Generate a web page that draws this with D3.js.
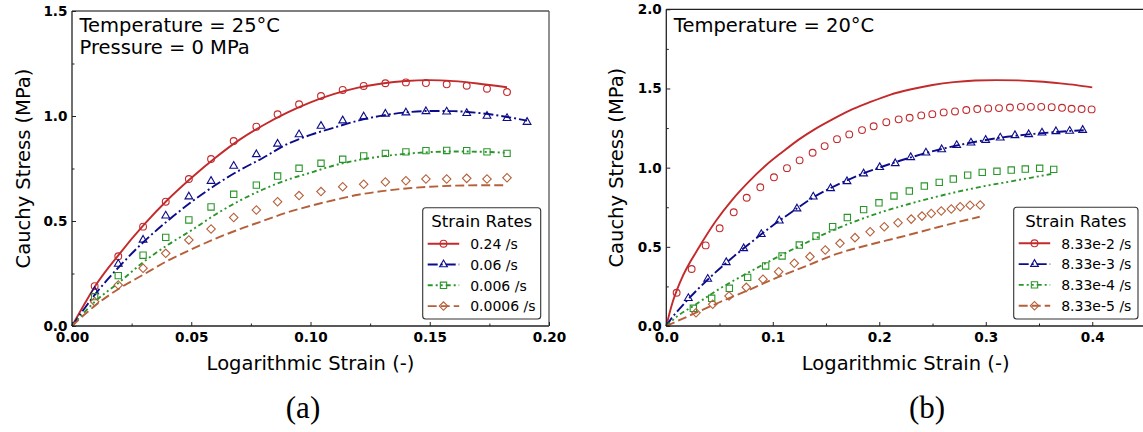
<!DOCTYPE html>
<html><head><meta charset="utf-8">
<script src="https://cdn.jsdelivr.net/npm/d3@7"></script>
<style>body{margin:0;background:#fff;overflow:hidden}</style>
</head><body>
<svg id="c" width="1143" height="432"></svg>
<script>
// ===== Panel (a): Temperature = 25°C, Pressure = 0 MPa =====
const aRateLabels = ["0.24 /s", "0.06 /s", "0.006 /s", "0.0006 /s"];
const aXTicks = [0, 0.05, 0.10, 0.15, 0.20];
const aXMinor = [0.025, 0.075, 0.125, 0.175];
const aYTicks = [0, 0.5, 1.0, 1.5];
const aYMinor = [0.25, 0.75, 1.25];
// experimental points
const aExpStrain = [0.0095,0.0194,0.0298,0.0393,0.049,0.0583,0.0678,0.0773,0.0862,0.0952,0.1044,0.1135,0.1223,0.1314,0.14,0.1484,0.1571,0.1655,0.174,0.1824];
const aExpStrainLong = [0.0095,0.0194,0.0298,0.0393,0.049,0.0583,0.0678,0.0773,0.0862,0.0952,0.1044,0.1135,0.1223,0.1314,0.14,0.1484,0.1571,0.1655,0.174,0.1824,0.1908];
const aExp024 = [0.19,0.332,0.473,0.592,0.70,0.795,0.881,0.949,1.008,1.056,1.095,1.124,1.143,1.156,1.160,1.157,1.151,1.144,1.130,1.114];
const aExp006 = [0.165,0.295,0.41,0.525,0.616,0.69,0.762,0.817,0.867,0.912,0.952,0.978,0.997,1.01,1.016,1.022,1.02,1.013,1.0,0.989,0.971];
const aExp0006a = [0.14,0.24,0.337,0.422,0.505,0.567,0.627,0.671,0.714,0.751,0.775,0.794,0.81,0.822,0.829,0.835,0.836,0.835,0.829,0.822];
const aExp00006 = [0.116,0.195,0.275,0.346,0.41,0.462,0.517,0.552,0.592,0.621,0.64,0.663,0.675,0.686,0.692,0.70,0.70,0.703,0.70,0.706];
// model curves
const aFitStrain = [0,0.005,0.01,0.02,0.03,0.04,0.05,0.06,0.07,0.08,0.09,0.10,0.11,0.12,0.13,0.14,0.15,0.16,0.17,0.1824];
const aFitStrainLong = [0,0.005,0.01,0.02,0.03,0.04,0.05,0.06,0.07,0.08,0.09,0.10,0.11,0.12,0.13,0.14,0.15,0.16,0.17,0.18,0.1908];
const aFit024 = [0,0.10,0.195,0.345,0.48,0.60,0.705,0.80,0.885,0.955,1.015,1.065,1.105,1.135,1.155,1.167,1.171,1.166,1.155,1.137];
const aFit006 = [0,0.08,0.155,0.285,0.40,0.50,0.59,0.67,0.74,0.80,0.865,0.91,0.945,0.978,1.002,1.017,1.024,1.023,1.015,1.0,0.978];
const aFit0006 = [0,0.063,0.12,0.21,0.305,0.385,0.455,0.53,0.595,0.65,0.695,0.73,0.765,0.79,0.808,0.82,0.828,0.831,0.83,0.825];
const aFit00006 = [0,0.052,0.1,0.18,0.245,0.31,0.365,0.415,0.46,0.50,0.54,0.572,0.60,0.625,0.642,0.655,0.663,0.668,0.67,0.67];

// ===== Panel (b): Temperature = 20°C =====
const bRateLabels = ["8.33e-2 /s", "8.33e-3 /s", "8.33e-4 /s", "8.33e-5 /s"];
const bXTicks = [0, 0.1, 0.2, 0.3, 0.4];
const bXMinor = [0.05, 0.15, 0.25, 0.35];
const bYTicks = [0, 0.5, 1.0, 1.5, 2.0];
const bYMinor = [0.25, 0.75, 1.25, 1.75];
const bExpStrain1 = [0.0097,0.0238,0.037,0.0501,0.0633,0.0755,0.0883,0.1011,0.1133,0.1252,0.1374,0.1487,0.1603,0.1718,0.1838,0.1947,0.2066,0.2182,0.2285,0.2394,0.2498,0.2605,0.2711,0.2817,0.292,0.3023,0.3124,0.3227,0.333,0.3424,0.3521,0.3619,0.3716,0.3806,0.39,0.3994];
const bExp1 = [0.21,0.36,0.509,0.617,0.718,0.81,0.876,0.939,0.997,1.046,1.094,1.136,1.18,1.21,1.237,1.261,1.287,1.305,1.315,1.33,1.338,1.349,1.355,1.364,1.37,1.374,1.376,1.38,1.384,1.384,1.384,1.382,1.378,1.372,1.37,1.368];
const bExpStrain2 = [0.0207,0.0389,0.0563,0.0727,0.0892,0.1061,0.1227,0.138,0.1543,0.1697,0.1853,0.2004,0.215,0.2295,0.2438,0.2586,0.2727,0.2861,0.2999,0.3136,0.3274,0.3403,0.3528,0.3659,0.3788,0.391];
const bExp2 = [0.175,0.297,0.402,0.49,0.579,0.665,0.741,0.816,0.869,0.913,0.962,1.002,1.027,1.065,1.094,1.115,1.141,1.157,1.174,1.189,1.204,1.21,1.22,1.229,1.231,1.237];
const bExpStrain3 = [0.0254,0.0426,0.0592,0.0764,0.0933,0.1087,0.1249,0.1406,0.1562,0.17,0.1853,0.1997,0.2138,0.2282,0.2423,0.2563,0.2695,0.283,0.2967,0.3105,0.3239,0.3371,0.3506,0.3638];
const bExp3 = [0.112,0.175,0.238,0.307,0.379,0.442,0.511,0.568,0.627,0.685,0.735,0.778,0.821,0.852,0.884,0.907,0.928,0.953,0.970,0.977,0.985,0.991,0.996,0.989];
const bExpStrain4 = [0.0279,0.0436,0.0589,0.0751,0.0908,0.1055,0.1202,0.1349,0.1493,0.1631,0.1772,0.1914,0.2047,0.2176,0.23,0.2401,0.2488,0.2582,0.2676,0.276,0.2852,0.2948];
const bExp4 = [0.084,0.137,0.189,0.244,0.295,0.343,0.396,0.438,0.48,0.522,0.558,0.595,0.627,0.652,0.675,0.694,0.711,0.726,0.739,0.753,0.762,0.764];
const bFitStrain1 = [0,0.005,0.0138,0.031,0.0467,0.0623,0.078,0.0936,0.1093,0.125,0.14,0.156,0.172,0.19,0.21,0.23,0.25,0.27,0.29,0.31,0.33,0.35,0.37,0.385,0.4];
const bFit1 = [0,0.13,0.29,0.50,0.665,0.80,0.915,1.015,1.10,1.18,1.245,1.305,1.36,1.41,1.46,1.495,1.522,1.54,1.55,1.553,1.551,1.544,1.532,1.521,1.507];
const bFitStrain2 = [0,0.005,0.01,0.02,0.04,0.06,0.08,0.1,0.12,0.14,0.16,0.18,0.2,0.22,0.24,0.26,0.28,0.3,0.32,0.34,0.36,0.38,0.392];
const bFit2 = [0,0.05,0.09,0.165,0.3,0.42,0.53,0.635,0.73,0.82,0.89,0.95,1.0,1.045,1.085,1.12,1.15,1.175,1.195,1.21,1.222,1.232,1.236];
const bFitStrain3 = [0,0.01,0.025,0.05,0.075,0.1,0.125,0.15,0.175,0.2,0.225,0.25,0.275,0.3,0.325,0.3615];
const bFit3 = [0,0.06,0.125,0.235,0.33,0.42,0.505,0.585,0.655,0.715,0.765,0.81,0.85,0.885,0.915,0.96];
const bFitStrain4 = [0,0.02,0.05,0.08,0.1,0.13,0.16,0.19,0.22,0.25,0.27,0.2943];
const bFit4 = [0,0.06,0.15,0.235,0.295,0.375,0.455,0.512,0.562,0.615,0.65,0.69];

// ===== styles =====
const colors = ["#c22a2c", "#0c0c8a", "#2a962a", "#b5603a"];
const dashes = [null, "10,3,2,3", "5,3,2,3,2,3", "9,4"];
const symbols = ["circle", "triangle", "square", "diamond"];
const FONT = "'DejaVu Sans', sans-serif";

const svg = d3.select("#c");

function marker(g, type, cx, cy, color) {
  let s;
  if (type === "circle") {
    g.append("circle").attr("cx", cx).attr("cy", cy).attr("r", 3.4)
      .attr("fill", "none").attr("stroke", color).attr("stroke-width", 1.1);
    return;
  }
  if (type === "triangle") s = d3.symbol(d3.symbolTriangle, 26)();
  if (type === "square") s = d3.symbol(d3.symbolSquare, 40)();
  if (type === "diamond") s = d3.symbol(d3.symbolSquare, 36)();
  g.append("path").attr("d", s)
    .attr("transform", `translate(${cx},${cy})` + (type === "diamond" ? " rotate(45)" : ""))
    .attr("fill", "none").attr("stroke", color).attr("stroke-width", 1.1);
}

function panel(cfg) {
  const x = d3.scaleLinear().domain(cfg.xDomain).range(cfg.xRange);
  const y = d3.scaleLinear().domain(cfg.yDomain).range(cfg.yRange);
  const g = svg.append("g");
  const [x0, x1] = cfg.xRange, [y0, y1] = cfg.yRange;

  // curves
  const line = d3.line().x(d => x(d[0])).y(d => y(d[1])).curve(d3.curveMonotoneX);
  cfg.fits.forEach((f, i) => {
    g.append("path").datum(d3.zip(f[0], f[1])).attr("d", line)
      .attr("fill", "none").attr("stroke", colors[i]).attr("stroke-width", 1.9)
      .attr("stroke-dasharray", dashes[i]);
  });
  // markers
  cfg.exps.forEach((e, i) => {
    d3.zip(e[0], e[1]).forEach(p => marker(g, symbols[i], x(p[0]), y(p[1]), colors[i]));
  });

  // spines
  g.append("line").attr("x1", x0).attr("x2", x0).attr("y1", y0).attr("y2", y1).attr("stroke", "#222").attr("stroke-width", 1.3);
  g.append("line").attr("x1", x0).attr("x2", x1).attr("y1", y0).attr("y2", y0).attr("stroke", "#222").attr("stroke-width", 1.3);
  g.append("line").attr("x1", x0).attr("x2", x1).attr("y1", y1).attr("y2", y1).attr("stroke", cfg.topColor).attr("stroke-width", 1.3);
  g.append("line").attr("x1", x1).attr("x2", x1).attr("y1", y0).attr("y2", y1).attr("stroke", cfg.topColor).attr("stroke-width", 1.3);

  // axes
  const ax = g.append("g").attr("transform", `translate(0,${y0})`)
    .call(d3.axisBottom(x).tickValues(cfg.xTicks).tickSize(-4).tickPadding(6.5).tickFormat(d3.format(cfg.xFmt)));
  const axm = g.append("g").attr("transform", `translate(0,${y0})`)
    .call(d3.axisBottom(x).tickValues(cfg.xMinor).tickSize(-2.5).tickFormat(""));
  const ay = g.append("g").attr("transform", `translate(${x0},0)`)
    .call(d3.axisLeft(y).tickValues(cfg.yTicks).tickSize(-4).tickPadding(4.5).tickFormat(d3.format(".1f")));
  const aym = g.append("g").attr("transform", `translate(${x0},0)`)
    .call(d3.axisLeft(y).tickValues(cfg.yMinor).tickSize(-2.5).tickFormat(""));
  [ax, axm, ay, aym].forEach(a => {
    a.select(".domain").remove();
    a.selectAll("line").attr("stroke", "#222").attr("stroke-width", 1);
    a.selectAll("text").attr("font-family", FONT).attr("font-weight", "bold")
      .attr("font-size", "13.6px").attr("fill", "#000");
  });

  // axis titles
  g.append("text").attr("x", cfg.xLabelX).attr("y", 369.5).attr("text-anchor", "middle")
    .attr("font-family", FONT).attr("font-size", "19.5px").text("Logarithmic Strain (-)");
  g.append("text").attr("transform", `translate(${cfg.yLabelX},${(y0 + y1) / 2}) rotate(-90)`)
    .attr("text-anchor", "middle").attr("font-family", FONT).attr("font-size", "19.5px")
    .text("Cauchy Stress (MPa)");

  // annotations
  cfg.notes.forEach((t, i) => {
    g.append("text").attr("x", x0 + 7.5).attr("y", cfg.noteY + i * 22)
      .attr("font-family", FONT).attr("font-size", "19.5px").text(t);
  });

  // legend
  const L = cfg.legend;
  g.append("rect").attr("x", L.x).attr("y", L.y).attr("width", L.w).attr("height", L.h)
    .attr("rx", 3).attr("fill", "#fff").attr("stroke", "#333").attr("stroke-width", 1.1);
  g.append("text").attr("x", L.x + L.w / 2).attr("y", L.y + 19.5).attr("text-anchor", "middle")
    .attr("font-family", FONT).attr("font-size", "16.6px").text("Strain Rates");
  cfg.labels.forEach((lab, i) => {
    const ly = L.y + 36 + i * 20.8;
    g.append("line").attr("x1", L.x + 5).attr("x2", L.x + 36.5).attr("y1", ly).attr("y2", ly)
      .attr("stroke", colors[i]).attr("stroke-width", 1.9).attr("stroke-dasharray", dashes[i]);
    marker(g, symbols[i], L.x + 20.8, ly, colors[i]);
    g.append("text").attr("x", L.x + 47.5).attr("y", ly + 5.2)
      .attr("font-family", FONT).attr("font-size", "14px").text(lab);
  });

  // panel letter
  g.append("text").attr("x", cfg.letterX).attr("y", 418).attr("text-anchor", "middle")
    .attr("font-family", "'Liberation Serif', serif").attr("font-size", "31px").text(cfg.letter);
}

panel({
  xDomain: [0, 0.20], xRange: [72, 549],
  yDomain: [0, 1.5], yRange: [326, 11],
  xTicks: aXTicks, xMinor: aXMinor, yTicks: aYTicks, yMinor: aYMinor, xFmt: ".2f",
  topColor: "#555",
  fits: [[aFitStrain, aFit024], [aFitStrainLong, aFit006], [aFitStrain, aFit0006], [aFitStrain, aFit00006]],
  exps: [[aExpStrain, aExp024], [aExpStrainLong, aExp006], [aExpStrain, aExp0006a], [aExpStrain, aExp00006]],
  xLabelX: 310.5, yLabelX: 29.5,
  notes: ["Temperature = 25°C", "Pressure = 0 MPa"], noteY: 32.3,
  legend: {x: 422.7, y: 207.7, w: 118, h: 111.3},
  labels: aRateLabels, letter: "(a)", letterX: 303
});

panel({
  xDomain: [0, 0.45], xRange: [666.3, 1145.5],
  yDomain: [0, 2.0], yRange: [326, 9.3],
  xTicks: bXTicks, xMinor: bXMinor, yTicks: bYTicks, yMinor: bYMinor, xFmt: ".1f",
  topColor: "#222",
  fits: [[bFitStrain1, bFit1], [bFitStrain2, bFit2], [bFitStrain3, bFit3], [bFitStrain4, bFit4]],
  exps: [[bExpStrain1, bExp1], [bExpStrain2, bExp2], [bExpStrain3, bExp3], [bExpStrain4, bExp4]],
  xLabelX: 905.7, yLabelX: 622.5,
  notes: ["Temperature = 20°C"], noteY: 31.7,
  legend: {x: 1013.7, y: 207.3, w: 124.3, h: 111.7},
  labels: bRateLabels, letter: "(b)", letterX: 927
});
</script>
</body></html>
